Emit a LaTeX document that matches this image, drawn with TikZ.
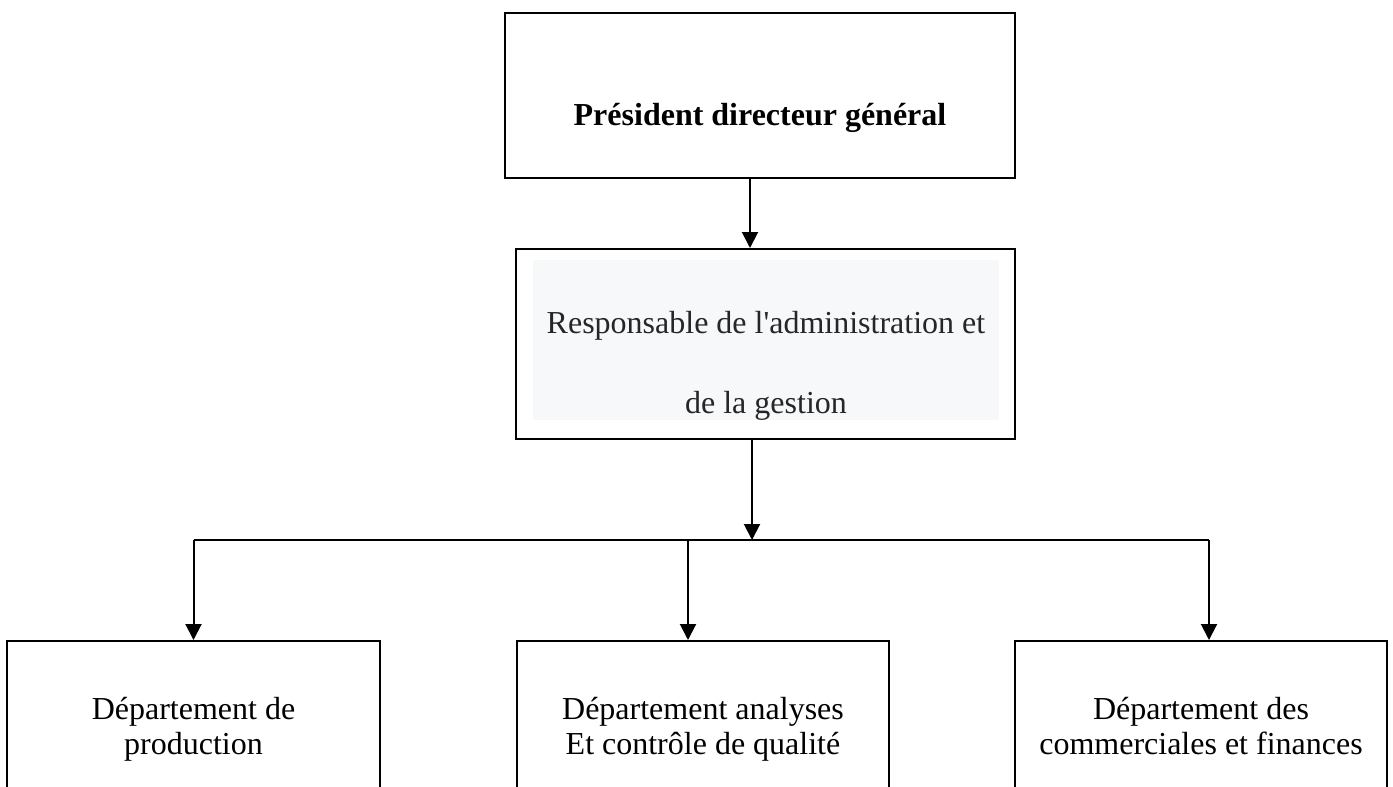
\documentclass[tikz,border=0pt]{standalone}
\usepackage{fontspec}
\setmainfont{Liberation Serif}
\usepackage{xcolor}
\usetikzlibrary{arrows.meta, positioning}
\definecolor{shadegray}{RGB}{247,248,250}
\tikzset{
  headbox/.style={rectangle, draw=black, line width=1pt,
                  minimum width=255pt, minimum height=82.5pt,
                  font=\fontsize{16}{19}\selectfont\bfseries,
                  text height=40pt, text depth=10.5pt},
  midbox/.style={rectangle, draw=black, line width=1pt,
                 minimum width=249.5pt, minimum height=95pt},
  shadebox/.style={rectangle, fill=shadegray, minimum width=233pt,
                   minimum height=80pt, inner ysep=0pt, align=center,
                   text height=76.5pt, text depth=3.5pt, text=black!85,
                   font=\fontsize{16}{40}\selectfont},
  deptbox/.style={rectangle, draw=black, line width=0.8pt,
                  minimum width=186.25pt, minimum height=89pt, align=center,
                  inner ysep=0pt, text height=30pt, text depth=5pt,
                  font=\fontsize{16}{17.5}\selectfont},
  arrow/.style={-{Triangle[length=8pt, width=8pt]}, draw=black, line width=1pt},
  busline/.style={draw=black, line width=0.8pt},
}
\begin{document}
\begin{tikzpicture}
  \useasboundingbox (0,0) rectangle (696.5pt,-393.5pt);

  % Direction
  \node[headbox] (pdg) at (380pt,-47.75pt) {Président directeur général};
  \node[midbox, below=34.5pt of pdg, xshift=2.75pt] (resp) {};
  \node[shadebox] (respshade) at ([xshift=0.25pt, yshift=2pt]resp.center)
    {Responsable de l\textquotesingle administration et\\de la gestion};

  % Bus
  \coordinate[below=50pt of resp.south, xshift=-6.75pt] (bus);

  % Departments
  \node[deptbox, below=50pt of bus, xshift=-279.25pt] (prod) {Département de\\production};
  \node[deptbox, below=50pt of bus, xshift=-24.5pt] (qual) {Département analyses\\Et contrôle de qualité};
  \node[deptbox, below=50pt of bus, xshift=224.5pt] (fin) {Département des\\commerciales et finances};

  % Edges
  \coordinate (pdgout) at ([xshift=-5pt]pdg.south);
  \draw[arrow] (pdgout) -- (pdgout |- resp.north);
  \draw[arrow] ([xshift=-6.75pt]resp.south) -- (bus);

  \coordinate (tprod) at (prod.north);
  \coordinate (tqual) at ([xshift=-7.5pt]qual.north);
  \coordinate (tfin) at ([xshift=4pt]fin.north);
  \draw[busline] (tprod |- bus) -- (tfin |- bus);
  \draw[arrow] (tprod |- bus) -- (tprod);
  \draw[arrow] (tqual |- bus) -- (tqual);
  \draw[arrow] (tfin |- bus) -- (tfin);

\end{tikzpicture}
\end{document}
